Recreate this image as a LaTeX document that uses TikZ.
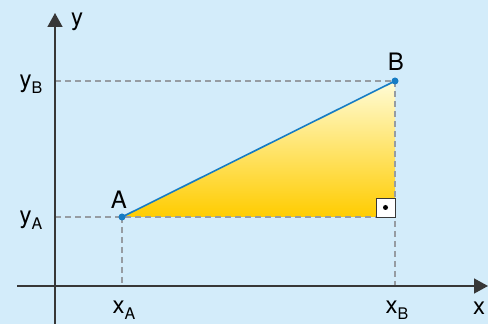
\documentclass[tikz,border=0pt]{standalone}
\usepackage{fontspec}
\setmainfont{TeX Gyre Heros}
\usetikzlibrary{arrows.meta}
\definecolor{skyback}{RGB}{211,236,250}
\definecolor{axisgray}{RGB}{55,55,55}
\definecolor{guidegray}{RGB}{150,156,162}
\definecolor{lineblue}{RGB}{22,124,196}
\definecolor{paleyellow}{RGB}{255,252,215}
\definecolor{midyellow}{RGB}{255,241,0}
\definecolor{deepyellow}{RGB}{255,204,0}
\newcommand{\sublbl}[2]{#1\raisebox{-0.5ex}{\fontsize{16}{16}\selectfont #2}}

\begin{document}
\begin{tikzpicture}[x=1pt,y=1pt, every node/.style={font=\fontsize{24}{24}\selectfont, inner sep=0pt}]
    \tikzset{
      axisline/.style={line width=1.5pt, axisgray, -{Triangle[length=14pt,width=15pt]}},
      guide/.style={guidegray, line width=1.2pt, dash pattern=on 6pt off 4pt},
      ptdot/.style={circle, fill=lineblue, minimum size=7pt}
    }

    % ── Background ───────────────────────────────────────────────────────
    \fill[skyback] (0,0) rectangle (488,324);
    \useasboundingbox (0,0) rectangle (488,324);

    \coordinate (O) at (55,38);
    \coordinate (A) at (122,107);
    \coordinate (B) at (395,243);
    \coordinate (C) at (395,107);

    % ── Triangle ─────────────────────────────────────────────────────────
    \shade[top color=paleyellow, middle color=midyellow, bottom color=deepyellow]
      (A) -- (B) -- (C) -- cycle;

    % ── Guides ───────────────────────────────────────────────────────────
    \draw[guide] (O |- B) -- (B);
    \draw[guide] (O |- A) -- (C);
    \draw[guide] (A) -- (A |- O);
    \draw[guide] (B) -- (B |- O);

    % right angle
    \draw[axisgray, fill=white, line width=0.9pt] (376,107) rectangle (395,126);
    \fill[black] (385.5,116.5) circle (2.5pt);

    % ── Hypotenuse ───────────────────────────────────────────────────────
    \draw[lineblue, line width=1.6pt] (A) -- (B);

    % ── Axes ─────────────────────────────────────────────────────────────
    \draw[axisline] (55,0) -- (55,311);
    \draw[axisline] (17,38) -- (488,38);

    \node[ptdot] (dotA) at (A) {};
    \node[ptdot] (dotB) at (B) {};

    % ── Labels ───────────────────────────────────────────────────────────
    \node (lblA) at (119,124) {A};
    \node (lblB) at (396,262) {B};
    \node (lbly) at (77,302) {y};
    \node (lblx) at (479,16) {x};
    \node (lblyB) at (31,240) {\sublbl{y}{B}};
    \node (lblyA) at (31,104) {\sublbl{y}{A}};
    \node (lblxA) at (124,14) {\sublbl{x}{A}};
    \node (lblxB) at (397,14) {\sublbl{x}{B}};
\end{tikzpicture}
\end{document}
